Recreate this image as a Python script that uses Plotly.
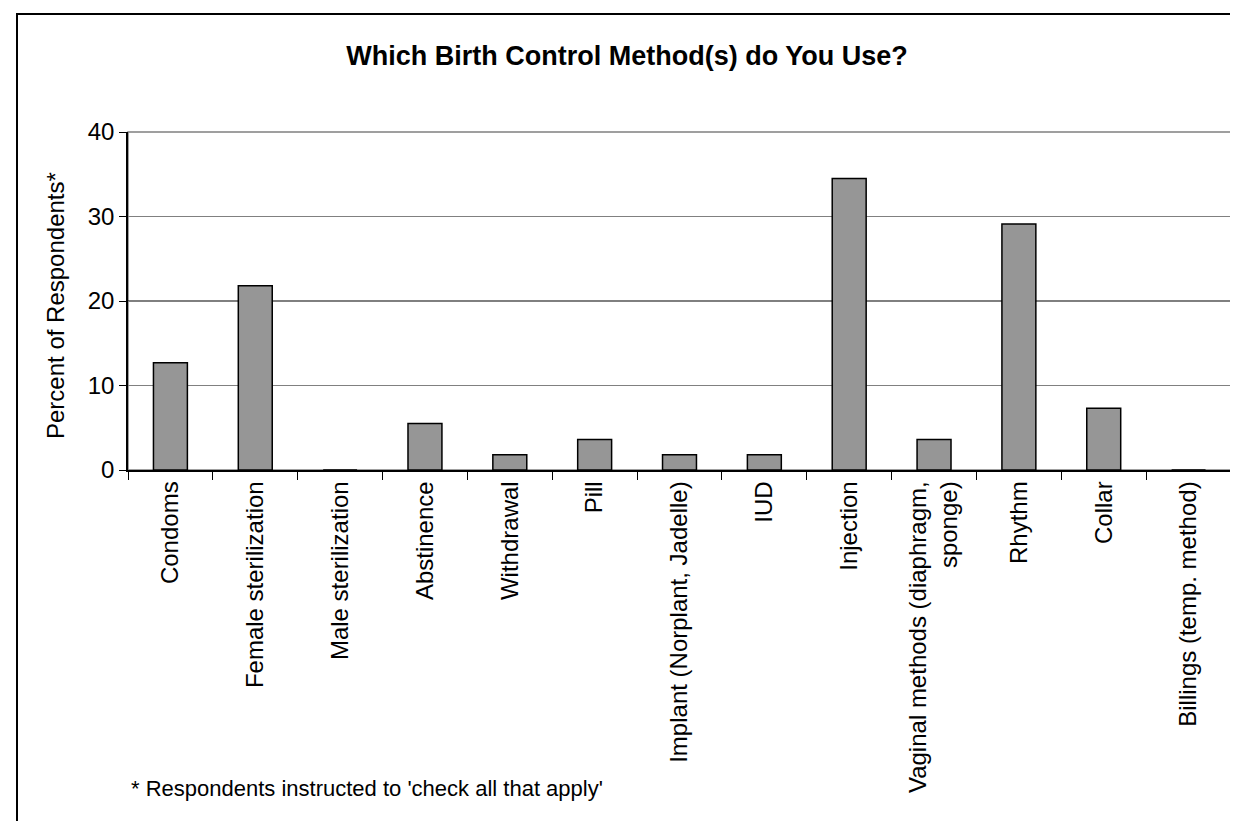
import plotly.graph_objects as go

categories = ["Condoms", "Female sterilization", "Male sterilization", "Abstinence",
              "Withdrawal", "Pill", "Implant (Norplant, Jadelle)", "IUD", "Injection",
              "Vaginal methods (diaphragm,<br>sponge)", "Rhythm", "Collar",
              "Billings (temp. method)"]
percent = [12.7, 21.8, 0.0, 5.5, 1.8, 3.6, 1.8, 1.8, 34.5, 3.6, 29.1, 7.3, 0.0]

y_ticks = [0, 10, 20, 30, 40]

W, H = 1238, 821
ML, MR, MT, MB = 120, 15, 124, 359
PW, PH = W - ML - MR, H - MT - MB

def px_x(x):
    return (x - ML) / PW

def px_y(y):
    return (H - MB - y) / PH

FONT = "Liberation Sans, Arial, sans-serif"

fig = go.Figure(go.Bar(
    x=categories, y=percent,
    marker=dict(color="#969696", line=dict(color="black", width=1.5)),
))

fig.update_layout(
    width=W, height=H,
    margin=dict(l=ML, r=MR, t=MT, b=MB),
    paper_bgcolor="white", plot_bgcolor="white",
    bargap=0.6,
    showlegend=False,
    font=dict(family=FONT, color="black"),
    title=dict(text="<b>Which Birth Control Method(s) do You Use?</b>",
               x=0.5, xref="container", xanchor="center",
               y=1 - 48 / H, yref="container", yanchor="middle",
               font=dict(size=27, family=FONT, color="black")),
)

fig.update_xaxes(
    type="category", tickangle=-90,
    tickfont=dict(size=24, family=FONT, color="black"),
    ticks="outside", tickson="boundaries", ticklen=8, tickcolor="black",
    showline=True, linecolor="black", linewidth=1.5,
    showgrid=False,
)
fig.update_yaxes(
    range=[0, 40], tickvals=y_ticks,
    tickfont=dict(size=24, family=FONT, color="black"),
    ticks="outside", ticklen=7, tickcolor="black",
    showline=True, linecolor="black", linewidth=1.5,
    showgrid=True, gridcolor="#808080", gridwidth=1,
    zeroline=False,
)

# plot-area frame (grey) and emphasised 20 line
fig.add_shape(type="rect", xref="paper", yref="paper", x0=0, x1=1, y0=0, y1=1,
              line=dict(color="#808080", width=1.5), layer="below")
fig.add_shape(type="line", xref="paper", yref="y", x0=0, x1=1, y0=20, y1=20,
              line=dict(color="black", width=1.2), layer="below")

# outer chart border
fig.add_shape(type="rect", xref="paper", yref="paper",
              x0=px_x(9), x1=px_x(1235), y0=px_y(H + 10), y1=px_y(6),
              line=dict(color="black", width=2))

fig.add_annotation(text="Percent of Respondents*", textangle=-90,
                   xref="paper", yref="paper", x=px_x(47), y=px_y(298),
                   xanchor="center", yanchor="middle", showarrow=False,
                   font=dict(size=24, family=FONT, color="black"))

fig.add_annotation(text="* Respondents instructed to 'check all that apply'",
                   xref="paper", yref="paper", x=px_x(121), y=px_y(780),
                   xanchor="left", yanchor="middle", showarrow=False,
                   font=dict(size=22, family=FONT, color="black"))

fig.write_html("out.html")
